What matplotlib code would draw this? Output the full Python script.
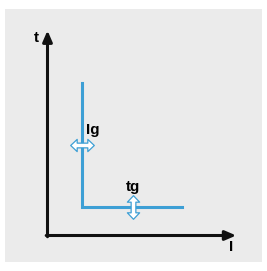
import matplotlib
matplotlib.use("Agg")
from matplotlib import pyplot as plt
from matplotlib.patches import Rectangle
from matplotlib.path import Path

# schematic characteristic (I on x, t on y)
curve_x = [1.85, 1.85, 7.25]
curve_y = [7.45, 1.4, 1.4]

# where the adjustment arrows sit
lg_arrow_y = 4.42
tg_arrow_x = 4.6

# labels
axis_labels = ["t", "I"]
lg_label = "Ig"
tg_label = "tg"

blue = "#3d9fd5"
dark = "#111111"

plt.rcParams['font.family'] = ['Liberation Sans', 'DejaVu Sans']

# double headed arrow marker shape
hl, hw, sw = 0.55, 0.52, 0.2
h_verts = [(-1, 0), (-1 + hl, hw), (-1 + hl, sw), (1 - hl, sw), (1 - hl, hw), (1, 0),
           (1 - hl, -hw), (1 - hl, -sw), (-1 + hl, -sw), (-1 + hl, -hw), (-1, 0)]
h_arrow = Path(h_verts, closed=True)
v_arrow = Path([(y, x) for x, y in h_verts], closed=True)

fig = plt.figure(figsize=(2.67, 2.71), dpi=100)
fig.patch.set_facecolor("white")
# grey panel
fig.patches.append(Rectangle((5 / 267, 9 / 271), 257 / 267, 253 / 271,
                             transform=fig.transFigure, fc="#ebebeb", ec="none", zorder=-1))

ax = fig.add_axes([47.5 / 267, 35.5 / 271, 185 / 267, 205 / 271])
ax.set_xlim(0, 10)
ax.set_ylim(0, 10)
ax.axis("off")

# axes with arrow heads
arr = dict(arrowstyle="-|>,head_length=0.65,head_width=0.28", color=dark, lw=2.2,
           shrinkA=0, shrinkB=0)
ax.annotate("", xy=(10.2, 0), xytext=(-0.07, 0), arrowprops=arr, annotation_clip=False)
ax.annotate("", xy=(0, 10.0), xytext=(0, -0.06), arrowprops=arr, annotation_clip=False)

ax.text(-0.6, 9.63, axis_labels[0], fontsize=11, fontweight="bold", ha="center", va="center")
ax.text(9.95, -0.55, axis_labels[1], fontsize=11, fontweight="bold", ha="center", va="center")

# curve
ax.plot(curve_x, curve_y, color=blue, lw=2.2, solid_joinstyle="miter", clip_on=False)

# adjustment arrows
ax.plot(curve_x[0], lg_arrow_y, marker=h_arrow, markersize=17, mfc="white", mec=blue, mew=0.9)
ax.plot(tg_arrow_x, curve_y[1], marker=v_arrow, markersize=17, mfc="white", mec=blue, mew=0.9)

ax.text(2.45, 5.15, lg_label, fontsize=11, fontweight="bold", ha="center", va="center")
ax.text(4.6, 2.37, tg_label, fontsize=11, fontweight="bold", ha="center", va="center")

plt.savefig("out.png", dpi=100)
